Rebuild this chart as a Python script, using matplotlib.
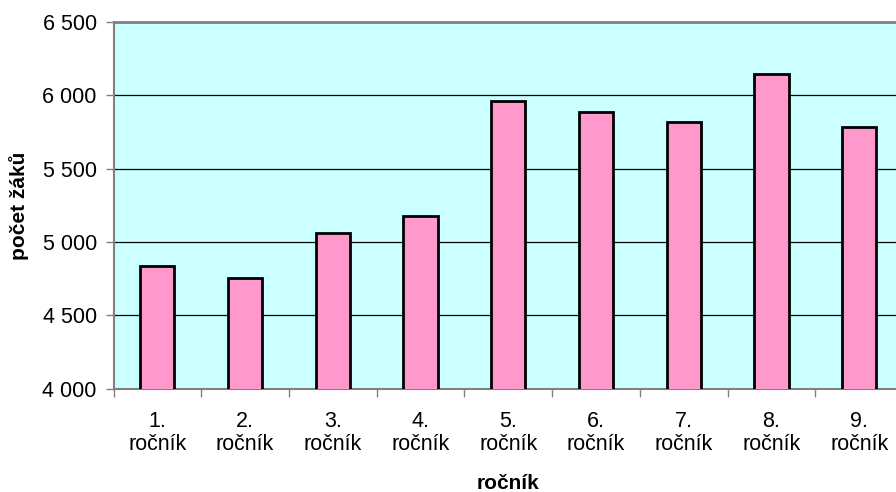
import matplotlib
matplotlib.use("Agg")
import matplotlib.pyplot as plt

plt.rcParams["font.family"] = ["Liberation Sans", "DejaVu Sans"]

rocniky = ["1.", "2.", "3.", "4.", "5.", "6.", "7.", "8.", "9."]
pocet_zaku = [4834, 4752, 5063, 5177, 5964, 5885, 5817, 6146, 5787]
yticks = [4000, 4500, 5000, 5500, 6000, 6500]

fig = plt.figure(figsize=(8.96, 4.92), dpi=100)
ax = fig.add_axes([0.1267, 0.21, 0.8811, 0.7453])
ax.set_facecolor("#CCFFFF")

x = list(range(len(rocniky)))
ax.bar(x, pocet_zaku, width=0.39, color="#FF99CC", edgecolor="black",
       linewidth=2, zorder=3)

ax.set_xlim(-0.5, len(rocniky) - 0.5)
ax.set_ylim(4000, 6500)
ax.set_yticks(yticks)
ax.set_yticklabels([f"{v:,}".replace(",", " ") for v in yticks], fontsize=15.5)
ax.yaxis.grid(True, color="black", lw=0.9, zorder=1)

ax.set_xticks(x)
ax.set_xticklabels([f"{r}\nročník" for r in rocniky], fontsize=15.5,
                   linespacing=1.1)
ax.set_xticks([i - 0.5 for i in range(len(rocniky) + 1)], minor=True)
ax.tick_params(axis="x", which="major", length=0, pad=16)
ax.tick_params(axis="x", which="minor", length=6, color="#808080", width=1)
ax.tick_params(axis="y", length=6, color="#808080", width=1, pad=6)

for s in ["top", "bottom", "left"]:
    ax.spines[s].set_color("#808080")
ax.spines["top"].set_linewidth(2)
ax.spines["left"].set_linewidth(1.5)
ax.spines["bottom"].set_linewidth(1.5)
ax.spines["right"].set_visible(False)

ax.set_ylabel("počet žáků", fontsize=15, fontweight="bold")
ax.yaxis.set_label_coords(-0.107, 0.5)
ax.set_xlabel("ročník", fontsize=15, fontweight="bold")
ax.xaxis.set_label_coords(0.5, -0.232)

fig.savefig("out.png", dpi=100)
